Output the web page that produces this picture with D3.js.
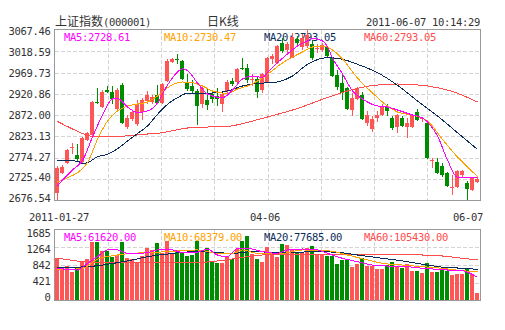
<!DOCTYPE html>
<html>
<head>
<meta charset="utf-8">
<script src="https://cdn.jsdelivr.net/npm/d3@7"></script>
<style>
  html, body { margin: 0; padding: 0; background: #fff; }
  svg { display: block; }
  .mono { font-family: "DejaVu Sans Mono", "Liberation Mono", monospace; font-size: 10.5px; letter-spacing: -0.32px; }
  .cjk { font-family: "Noto Sans CJK SC", sans-serif; font-size: 12px; }
</style>
</head>
<body>
<svg id="chart" width="505" height="330"></svg>
<script>
// Trading days, 2011-01-27 .. 2011-06-07
const dates = [
  "01-27","01-28","01-31",
  "02-01","02-09","02-10","02-11","02-14","02-15","02-16","02-17","02-18","02-21","02-22","02-23","02-24","02-25","02-28",
  "03-01","03-02","03-03","03-04","03-07","03-08","03-09","03-10","03-11","03-14","03-15","03-16","03-17","03-18","03-21","03-22","03-23","03-24","03-25","03-28","03-29","03-30","03-31",
  "04-01","04-06","04-07","04-08","04-11","04-12","04-13","04-14","04-15","04-18","04-19","04-20","04-21","04-22","04-25","04-26","04-27","04-28","04-29",
  "05-03","05-04","05-05","05-06","05-09","05-10","05-11","05-12","05-13","05-16","05-17","05-18","05-19","05-20","05-23","05-24","05-25","05-26","05-27","05-30","05-31",
  "06-01","06-02","06-03","06-07"
];

const opens = [
  2693.3, 2739.3, 2762.3, 2795.4, 2779.3, 2763.9, 2815.6, 2826.0, 2900.8, 2891.1,
  2928.4, 2925.6, 2886.3, 2941.0, 2843.3, 2861.7, 2851.3, 2878.9, 2904.2, 2901.9,
  2917.3, 2900.3, 2950.2, 2993.9, 3000.8, 2996.2, 2944.9, 2938.7, 2927.9, 2897.3,
  2906.5, 2919.6, 2915.7, 2897.3, 2927.2, 2950.2, 2947.9, 2979.0, 2980.8, 2952.5,
  2954.1, 2928.8, 2947.9, 3000.1, 2992.3, 3038.3, 3021.5, 3003.8, 3046.1, 3028.4,
  3030.7, 3035.3, 3023.1, 3020.4, 3027.3, 3002.4, 2964.0, 2944.9, 2934.1, 2883.5,
  2908.1, 2918.0, 2854.3, 2839.1, 2864.4, 2872.0, 2891.1, 2865.8, 2843.7, 2865.8,
  2843.7, 2843.7, 2879.6, 2861.7, 2852.9, 2766.2, 2764.6, 2754.7, 2739.3, 2703.4,
  2705.7, 2734.0, 2716.3, 2699.5, 2718.6
];
const closes = [
  2750.8, 2751.7, 2791.5, 2799.5, 2771.5, 2819.1, 2829.5, 2900.8, 2898.9, 2925.6,
  2924.9, 2908.1, 2929.5, 2853.6, 2864.0, 2878.9, 2897.3, 2906.5, 2918.0, 2913.4,
  2898.9, 2943.3, 2996.2, 3000.1, 2998.5, 2954.8, 2931.1, 2927.2, 2893.4, 2934.1,
  2894.3, 2908.1, 2908.8, 2920.3, 2947.9, 2942.6, 2977.1, 2976.7, 2952.5, 2954.8,
  2924.9, 2965.6, 3002.4, 3007.7, 3030.7, 3019.2, 3035.3, 3052.1, 3036.9, 3048.4,
  3056.0, 3003.1, 3026.8, 3033.0, 3008.4, 2961.7, 2937.1, 2922.6, 2885.8, 2911.8,
  2933.4, 2862.8, 2872.0, 2862.8, 2872.0, 2891.1, 2881.9, 2841.4, 2872.0, 2846.7,
  2854.3, 2872.0, 2860.5, 2864.0, 2772.4, 2768.5, 2737.9, 2734.0, 2708.7, 2707.1,
  2743.2, 2743.2, 2701.8, 2726.4, 2724.1
];
const highs = [
  2754.7, 2755.9, 2794.9, 2806.9, 2805.3, 2821.4, 2831.8, 2903.1, 2934.8, 2928.4,
  2938.7, 2938.7, 2934.1, 2944.5, 2872.0, 2883.5, 2906.5, 2911.1, 2927.2, 2918.0,
  2941.0, 2945.6, 3000.8, 3003.1, 3012.3, 2998.5, 2966.3, 2952.5, 2931.8, 2938.7,
  2934.1, 2924.9, 2934.1, 2924.9, 2952.5, 2957.1, 2980.1, 3003.8, 2988.6, 2966.3,
  2961.7, 2969.3, 3005.4, 3011.6, 3033.0, 3049.8, 3039.9, 3060.6, 3053.7, 3057.6,
  3067.46, 3044.5, 3034.6, 3037.6, 3030.7, 3005.4, 2975.5, 2964.0, 2936.4, 2921.9,
  2936.4, 2924.9, 2881.9, 2869.7, 2881.2, 2897.3, 2897.3, 2869.7, 2874.3, 2869.7,
  2865.1, 2874.3, 2885.8, 2867.4, 2855.9, 2772.4, 2772.4, 2760.9, 2740.9, 2734.0,
  2745.5, 2745.5, 2720.2, 2729.4, 2728.7
];
const lows = [
  2676.54, 2736.3, 2759.3, 2781.6, 2767.3, 2761.6, 2812.2, 2823.7, 2897.3, 2888.1,
  2921.5, 2897.3, 2883.5, 2851.3, 2838.7, 2858.2, 2846.7, 2860.5, 2897.3, 2897.3,
  2897.3, 2897.3, 2947.9, 2991.6, 2989.3, 2952.5, 2927.2, 2922.6, 2848.3, 2888.1,
  2883.5, 2899.6, 2892.7, 2878.9, 2920.3, 2938.7, 2945.6, 2975.5, 2946.3, 2938.7,
  2911.8, 2923.3, 2945.6, 2988.6, 2989.3, 3015.3, 3010.0, 3003.1, 3033.0, 3021.5,
  3026.1, 2998.5, 3015.3, 3016.9, 3005.4, 2959.4, 2929.5, 2906.5, 2883.5, 2869.7,
  2906.5, 2860.5, 2846.7, 2833.6, 2856.6, 2869.7, 2869.7, 2837.5, 2829.9, 2844.4,
  2819.1, 2842.1, 2858.2, 2855.9, 2770.8, 2749.4, 2736.3, 2730.1, 2706.4, 2688.0,
  2704.1, 2727.1, 2676.54, 2697.2, 2716.3
];
const volumes = [
  1018, 738, 826, 682, 778, 915, 995, 1396, 1396, 1187,
  1187, 1027, 1083, 1396, 1003, 979, 915, 1059, 1252, 1204,
  1364, 1123, 1428, 1139, 1147, 1123, 1059, 1083, 1428, 1187,
  1260, 915, 899, 883, 1027, 979, 1220, 1428, 1540, 1107,
  979, 923, 1268, 1123, 1043, 1348, 1324, 1204, 1163, 1163,
  1244, 1300, 1083, 1107, 1059, 1059, 867, 963, 979, 802,
  867, 1003, 818, 826, 746, 746, 851, 915, 818, 778,
  867, 706, 698, 658, 883, 682, 682, 722, 706, 602,
  626, 626, 762, 626, 177
];

// Moving averages of price: [day index, value]
const ma5 = [[0,2708.7],[1,2722.5],[3,2745.5],[5,2767.4],[7,2821.4],[9,2872.0],[11,2908.8],[12,2910.0],[14,2890.4],[16,2877.8],[18,2881.2],[20,2899.6],[22,2941.0],[24,2970.9],[25,2978.5],[26,2974.4],[28,2945.6],[30,2920.3],[33,2911.8],[35,2929.5],[37,2954.8],[39,2961.7],[41,2958.3],[42,2969.3],[44,2992.3],[46,3012.3],[48,3030.7],[50,3042.2],[51,3047.9],[53,3042.2],[54,3028.4],[55,3003.1],[57,2966.3],[59,2927.2],[61,2908.8],[64,2892.7],[66,2890.4],[68,2883.5],[71,2872.0],[73,2865.1],[74,2855.9],[76,2823.7],[78,2768.5],[80,2728.3],[82,2727.8],[84,2728.61]];
const ma10 = [[0,2717.9],[2,2727.8],[4,2739.3],[6,2762.3],[8,2816.1],[10,2858.2],[12,2881.2],[14,2892.7],[16,2897.3],[18,2901.9],[20,2915.7],[22,2934.8],[25,2947.9],[27,2946.3],[29,2938.7],[31,2927.2],[34,2921.5],[36,2931.8],[38,2938.7],[40,2950.2],[42,2965.6],[45,2991.6],[49,3016.9],[51,3028.4],[53,3030.7],[55,3021.5],[57,3000.8],[60,2957.1],[63,2922.6],[66,2892.7],[68,2878.9],[72,2869.0],[74,2858.2],[77,2816.1],[80,2775.4],[82,2752.4],[84,2730.47]];
const ma20 = [[0,2767.8],[4,2765.7],[5,2760.9],[6,2762.3],[8,2776.1],[10,2781.6],[12,2794.5],[14,2812.2],[16,2829.5],[18,2846.7],[20,2873.6],[22,2896.6],[24,2911.8],[26,2921.9],[29,2921.9],[32,2923.3],[34,2927.2],[37,2938.7],[40,2944.9],[43,2946.3],[47,2961.7],[50,2988.6],[54,3003.8],[57,3000.1],[60,2988.6],[64,2969.3],[68,2940.3],[72,2904.2],[76,2869.7],[80,2831.3],[84,2793.05]];
const ma60 = [[0,2857.1],[3,2839.8],[5,2829.5],[7,2822.6],[11,2822.6],[15,2824.9],[18,2828.3],[20,2829.9],[27,2843.3],[34,2845.6],[38,2855.2],[42,2867.4],[48,2887.0],[54,2912.3],[58,2927.2],[63,2939.9],[68,2943.3],[74,2938.7],[79,2926.1],[84,2901.9]];

// Moving averages of volume: [day index, value]
const vma5 = [[0,763],[4,722],[6,883],[8,1042],[10,1204],[12,1204],[14,1124],[16,1124],[18,1139],[20,1204],[23,1204],[25,1139],[28,1155],[30,1220],[32,1083],[34,1042],[36,1244],[38,1244],[41,1163],[44,1124],[46,1204],[49,1228],[52,1204],[54,1124],[57,1004],[60,922],[63,842],[66,818],[70,802],[73,763],[76,739],[78,722],[81,705],[84,546]];
const vma10 = [[0,722],[5,763],[8,980],[12,1083],[15,1124],[18,1139],[22,1163],[25,1187],[28,1204],[32,1124],[35,1124],[37,1204],[40,1124],[45,1124],[49,1204],[54,1187],[58,1083],[62,963],[65,883],[69,842],[73,802],[77,763],[81,705],[84,681]];
const vma20 = [[0,777],[4,790],[6,802],[9,842],[12,898],[15,963],[18,1042],[22,1107],[25,1148],[28,1163],[32,1139],[35,1124],[39,1163],[45,1139],[52,1163],[56,1148],[60,1083],[65,1004],[70,922],[74,842],[78,777],[82,763],[84,722]];
const vma60 = [[0,1011],[5,927],[15,891],[25,891],[30,915],[35,987],[39,1059],[45,1107],[60,1107],[68,1107],[73,1083],[77,1059],[81,1004],[84,963]];

const priceTicks = [2676.54, 2725.40, 2774.27, 2823.13, 2872.00, 2920.86, 2969.73, 3018.59, 3067.46];
const volumeTicks = [0, 421, 842, 1264, 1685];
const dateLabels = [["2011-01-27", 0], ["04-06", 42], ["06-07", 84]];

const priceLegend = ["MA5:2728.61", "MA10:2730.47", "MA20:2793.05", "MA60:2793.05"];
const volumeLegend = ["MA5:61620.00", "MA10:68379.00", "MA20:77685.00", "MA60:105430.00"];
const maColors = ["#ff00ff", "#ffa200", "#0b2d5c", "#ff4d4d"];

const UP = "#ff5555", DOWN = "#008c00";
const GRID = "#d4d4d4", FRAME = "#999", TEXT = "#333";

const svg = d3.select("#chart");

// Layout
const left = 55, right = 480;
const pTop = 30, pBottom = 200;
const vTop = 230, vBottom = 300;

const x = d3.scaleBand().domain(dates).range([left, right]).padding(0);
const bw = x.bandwidth() - 1;
const cx = i => x(dates[i]) + 2.5;

const y = d3.scaleLinear().domain([priceTicks[0], priceTicks[priceTicks.length - 1]]).range([pBottom, pTop]);
const vy = d3.scaleLinear().domain([0, volumeTicks[volumeTicks.length - 1]]).range([vBottom, vTop]);
const gx = d3.scaleLinear().domain([0, 8]).range([left, right]);

// label placement scales (labels sit slightly inside the frame)
const yLab = d3.scaleLinear().domain(y.domain()).range([198.5, 31]);
const vLab = d3.scaleLinear().domain(vy.domain()).range([297.5, 233.5]);

// Header
const head = svg.append("text").attr("x", left).attr("y", 25.5).attr("fill", TEXT);
head.append("tspan").attr("class", "cjk").text("上证指数");
head.append("tspan").attr("class", "mono").text("(000001)");
svg.append("text").attr("class", "cjk").attr("x", 207).attr("y", 25.5).attr("fill", TEXT).text("日K线");
svg.append("text").attr("class", "mono").attr("x", right).attr("y", 25.5).attr("text-anchor", "end").attr("fill", TEXT).text("2011-06-07 10:14:29");

// Grid
function grid(top, bottom, yVals) {
  const g = svg.append("g").attr("stroke", GRID).attr("stroke-dasharray", "4,2").attr("shape-rendering", "crispEdges");
  g.selectAll(".h").data(yVals).join("line")
    .attr("x1", left).attr("x2", right)
    .attr("y1", d => Math.round(d) + 0.5).attr("y2", d => Math.round(d) + 0.5);
  g.selectAll(".v").data(d3.range(1, 8)).join("line")
    .attr("x1", d => Math.round(gx(d)) + 0.5).attr("x2", d => Math.round(gx(d)) + 0.5)
    .attr("y1", top).attr("y2", bottom);
}
grid(pTop, pBottom, priceTicks.slice(1, -1).map(y));
grid(vTop, vBottom, volumeTicks.slice(1, -1).map(vy));

// Axis labels
svg.append("g").attr("class", "mono").attr("fill", TEXT).attr("text-anchor", "end")
  .selectAll("text").data(priceTicks).join("text")
  .attr("x", 50.5).attr("y", d => yLab(d) + 3.9).text(d => d.toFixed(2));
svg.append("g").attr("class", "mono").attr("fill", TEXT).attr("text-anchor", "end")
  .selectAll("text").data(volumeTicks).join("text")
  .attr("x", 50.5).attr("y", d => vLab(d) + 3.9).text(d => d);

svg.append("g").attr("class", "mono").attr("fill", TEXT)
  .selectAll("text").data(dateLabels).join("text")
  .attr("x", (d, k) => k === 0 ? x(dates[d[1]]) + 4 : k === 1 ? x(dates[d[1]]) : x(dates[d[1]]) + 8)
  .attr("text-anchor", (d, k) => k === 2 ? "end" : "middle")
  .attr("y", 220.5).text(d => d[0]);

// Legends
svg.append("g").attr("class", "mono").selectAll("text").data(priceLegend).join("text")
  .attr("x", (d, k) => left + 9 + k * 100).attr("y", 40.5).attr("fill", (d, k) => maColors[k]).text(d => d);
svg.append("g").attr("class", "mono").selectAll("text").data(volumeLegend).join("text")
  .attr("x", (d, k) => left + 9 + k * 100).attr("y", 240.5).attr("fill", (d, k) => maColors[k]).text(d => d);

// Candles
const idx = d3.range(dates.length);
const col = i => closes[i] >= opens[i] ? UP : DOWN;
const candles = svg.append("g").attr("shape-rendering", "crispEdges");
candles.selectAll("line").data(idx).join("line")
  .attr("x1", cx).attr("x2", cx)
  .attr("y1", i => y(highs[i])).attr("y2", i => y(lows[i]))
  .attr("stroke", col);
candles.selectAll("rect").data(idx).join("rect")
  .attr("x", i => x(dates[i])).attr("width", bw)
  .attr("y", i => y(Math.max(opens[i], closes[i])))
  .attr("height", i => Math.max(1, Math.abs(y(opens[i]) - y(closes[i]))))
  .attr("fill", col);

// Volume bars
svg.append("g").attr("shape-rendering", "crispEdges")
  .selectAll("rect").data(idx).join("rect")
  .attr("x", i => x(dates[i])).attr("width", bw)
  .attr("y", i => vy(volumes[i])).attr("height", i => vBottom - vy(volumes[i]))
  .attr("fill", col);

// Moving average lines (drawn aliased, 1px)
function maLine(pts, scale, color) {
  const line = d3.line().x(d => cx(d[0])).y(d => scale(d[1])).curve(d3.curveMonotoneX);
  svg.append("path").datum(pts).attr("d", line)
    .attr("fill", "none").attr("stroke", color).attr("stroke-width", 1)
    .attr("shape-rendering", "crispEdges");
}
[ma60, ma20, ma10, ma5].forEach((p, k) => maLine(p, y, maColors[3 - k]));
[vma60, vma20, vma10, vma5].forEach((p, k) => maLine(p, vy, maColors[3 - k]));

// Frames
svg.append("rect").attr("x", left - 0.5).attr("y", pTop - 0.5).attr("width", right - left + 1).attr("height", pBottom - pTop + 1)
  .attr("fill", "none").attr("stroke", FRAME).attr("shape-rendering", "crispEdges");
svg.append("rect").attr("x", left - 0.5).attr("y", vTop - 0.5).attr("width", right - left + 1).attr("height", vBottom - vTop + 1)
  .attr("fill", "none").attr("stroke", FRAME).attr("shape-rendering", "crispEdges");
</script>
</body>
</html>
